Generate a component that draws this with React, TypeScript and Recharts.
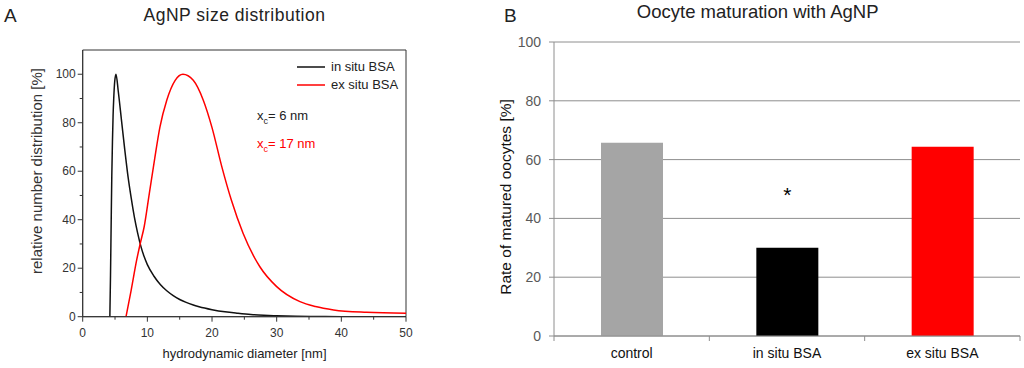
import React from "react";
import {
  LineChart,
  Line,
  XAxis,
  YAxis,
  ReferenceArea,
  Legend,
  BarChart,
  Bar,
  Cell,
  CartesianGrid,
  LabelList,
} from "recharts";

// panel A: AgNP size distribution
const inSituSize = [4.2, 4.3, 4.4, 4.5, 4.6, 4.7, 4.8, 4.95, 5.15, 5.5, 6.0, 6.5, 7.0, 7.5, 8.0, 8.5, 9.0, 9.5, 10, 11, 12, 13, 14, 15, 16, 17, 18, 20, 22, 24, 26, 28, 30, 33, 36, 40, 45, 50];
const inSituDist = [0, 17, 38, 58, 72, 83, 90, 97, 100, 93, 81, 69, 58, 49, 41, 34.5, 29, 24.8, 21.5, 16.8, 13.3, 10.7, 8.7, 7.1, 5.9, 4.9, 4.1, 2.9, 2.0, 1.4, 0.9, 0.6, 0.4, 0.2, 0.1, 0, 0, 0];
const exSituSize = [6.7, 7.5, 8.35, 8.9, 9.5, 10.3, 11.1, 11.95, 13.0, 14.3, 15.5, 17.1, 18.65, 20.0, 21.5, 23.0, 24.8, 27.4, 30, 33.6, 36, 38.8, 43.9, 50];
const exSituDist = [0, 11, 23.4, 30.2, 37, 50.8, 64.6, 78.3, 89.3, 97.5, 100, 97.5, 89.3, 78, 62, 48, 34.4, 20.6, 12.4, 6.2, 4.2, 2.8, 1.8, 1.4];
const seriesNames = ["in situ BSA", "ex situ BSA"];
const sizeTicks = [0, 5, 10, 15, 20, 25, 30, 35, 40, 45, 50];
const distTicks = [0, 10, 20, 30, 40, 50, 60, 70, 80, 90, 100];

// panel B: oocyte maturation
const groups = ["control", "in situ BSA", "ex situ BSA"];
const maturedRate = [65.7, 30.0, 64.4];
const significance = ["", "*", ""];
const rateTicks = [0, 20, 40, 60, 80, 100];
const barColors = ["#a5a5a5", "#000000", "#ff0000"];

const inSituData = inSituSize.map((x, i) => ({ x, y: inSituDist[i] }));
const exSituData = exSituSize.map((x, i) => ({ x, y: exSituDist[i] }));
const barData = groups.map((name, i) => ({ name, rate: maturedRate[i], mark: significance[i] }));

const FONT = '"Liberation Sans", Arial, sans-serif';

const SizeTick = (props: any) => {
  const { x, y, payload } = props;
  const major = payload.value % 10 === 0;
  return (
    <g>
      <line x1={x} x2={x} y1={y} y2={y + (major ? 5 : 3)} stroke="#333" />
      {major && (
        <text x={x} y={y + 20} textAnchor="middle" fontSize={12} fill="#333">
          {payload.value}
        </text>
      )}
    </g>
  );
};

const DistTick = (props: any) => {
  const { x, y, payload } = props;
  const major = payload.value % 20 === 0;
  return (
    <g>
      <line x1={x - (major ? 5 : 3)} x2={x} y1={y} y2={y} stroke="#333" />
      {major && (
        <text x={x - 7} y={y + 4} textAnchor="end" fontSize={12} fill="#333">
          {payload.value}
        </text>
      )}
    </g>
  );
};

const renderLegend = ({ payload }: any) => {
  const items = [...(payload || [])].sort(
    (a: any, b: any) => seriesNames.indexOf(a.value) - seriesNames.indexOf(b.value)
  );
  return (
    <div style={{ fontFamily: FONT }}>
      {items.map((item: any) => (
        <div key={item.value} style={{ display: "flex", alignItems: "center", height: 18.3, fontSize: 13, color: "#222" }}>
          <svg width={28} height={4}>
            <line x1={0} x2={28} y1={2} y2={2} stroke={item.color} strokeWidth={1.5} />
          </svg>
          <span style={{ marginLeft: 6 }}>{item.value}</span>
        </div>
      ))}
    </div>
  );
};

const BAR_W = 584;
const BAR_MARGIN = { top: 42, right: 4, left: 0, bottom: 0 };
const BAR_YAXIS_W = 114;
const halfBand = (BAR_W - BAR_MARGIN.left - BAR_MARGIN.right - BAR_YAXIS_W) / groups.length / 2;

const GroupTick = (props: any) => {
  const { x, y, payload, index } = props;
  return (
    <g>
      <line x1={x - halfBand} x2={x - halfBand} y1={y} y2={y + 5} stroke="#8e8e8e" />
      {index === groups.length - 1 && (
        <line x1={x + halfBand} x2={x + halfBand} y1={y} y2={y + 5} stroke="#8e8e8e" />
      )}
      <text x={x} y={y + 21.5} textAnchor="middle" fontSize={14} fill="#111">
        {payload.value}
      </text>
    </g>
  );
};

const abs = (style: React.CSSProperties): React.CSSProperties => ({ position: "absolute", whiteSpace: "nowrap", lineHeight: 1, ...style });

export default function App() {
  return (
    <div style={{ position: "absolute", left: 0, top: 0, width: 1024, height: 368, background: "#fff", fontFamily: FONT, overflow: "hidden" }}>
      <div style={abs({ left: 4, top: 5.6, fontSize: 19, color: "#222" })}>A</div>
      <div style={abs({ left: 84.5, width: 300, top: 6.9, fontSize: 17.5, letterSpacing: 0.5, textAlign: "center", color: "#222" })}>
        AgNP size distribution
      </div>
      <div style={abs({ left: 504, top: 5.6, fontSize: 19, color: "#222" })}>B</div>
      <div style={abs({ left: 607.7, width: 300, top: 2.6, fontSize: 18.5, textAlign: "center", color: "#222" })}>
        Oocyte maturation with AgNP
      </div>

      <div style={abs({ left: 0, top: 0 })}>
        <LineChart width={420} height={368} margin={{ top: 50, right: 14, left: 0, bottom: 0 }}>
          <ReferenceArea x1={0} x2={50} y1={0} y2={110} fill="none" stroke="#333" strokeWidth={1} />
          <XAxis
            type="number"
            dataKey="x"
            domain={[0, 50]}
            ticks={sizeTicks}
            interval={0}
            height={51.3}
            tickSize={0}
            tickMargin={0}
            tick={<SizeTick />}
            axisLine={{ stroke: "#333" }}
            allowDataOverflow
          />
          <YAxis
            type="number"
            dataKey="y"
            domain={[0, 110]}
            ticks={distTicks}
            interval={0}
            width={82.7}
            tickSize={0}
            tickMargin={0}
            tick={<DistTick />}
            axisLine={{ stroke: "#333" }}
            allowDataOverflow
          />
          <Legend
            layout="vertical"
            align="center"
            verticalAlign="middle"
            content={renderLegend}
            wrapperStyle={{ left: 297, top: 57.5, width: "auto" }}
          />
          <Line data={inSituData} dataKey="y" name={seriesNames[0]} type="monotone" stroke="#111" strokeWidth={1.5} dot={false} isAnimationActive={false} />
          <Line data={exSituData} dataKey="y" name={seriesNames[1]} type="monotone" stroke="#ff0000" strokeWidth={1.5} dot={false} isAnimationActive={false} />
        </LineChart>
      </div>

      <div style={abs({ left: 257, top: 109, fontSize: 13, color: "#222" })}>
        x<sub style={{ fontSize: 9, verticalAlign: -4 }}>c</sub>= 6 nm
      </div>
      <div style={abs({ left: 257, top: 137, fontSize: 13, color: "#ff0000" })}>
        x<sub style={{ fontSize: 9, verticalAlign: -4 }}>c</sub>= 17 nm
      </div>
      <div style={abs({ left: 36, top: 171, fontSize: 15, color: "#333", transform: "translate(-50%, -50%) rotate(-90deg)" })}>
        relative number distribution [%]
      </div>
      <div style={abs({ left: 94.5, width: 300, top: 347, fontSize: 13, color: "#222", textAlign: "center" })}>
        hydrodynamic diameter [nm]
      </div>

      <div style={abs({ left: 440, top: 0 })}>
        <BarChart width={BAR_W} height={368} data={barData} margin={BAR_MARGIN} barSize={62}>
          <CartesianGrid vertical={false} stroke="#8e8e8e" />
          <XAxis
            dataKey="name"
            height={32}
            tickSize={0}
            tickMargin={0}
            tickLine={false}
            tick={<GroupTick />}
            axisLine={{ stroke: "#8e8e8e" }}
            interval={0}
          />
          <YAxis
            domain={[0, 100]}
            ticks={rateTicks}
            width={BAR_YAXIS_W}
            tickSize={5}
            tickMargin={8}
            tick={{ fontSize: 14, fill: "#595959" }}
            tickLine={{ stroke: "#8e8e8e" }}
            axisLine={{ stroke: "#8e8e8e" }}
          />
          <Bar dataKey="rate" isAnimationActive={false}>
            {barData.map((d, i) => (
              <Cell key={d.name} fill={barColors[i]} />
            ))}
            <LabelList dataKey="mark" position="top" offset={46} fontSize={21} fill="#000" />
          </Bar>
        </BarChart>
      </div>
      <div style={abs({ left: 506, top: 196.7, fontSize: 15.5, color: "#111", transform: "translate(-50%, -50%) rotate(-90deg)" })}>
        Rate of matured oocytes [%]
      </div>
    </div>
  );
}
